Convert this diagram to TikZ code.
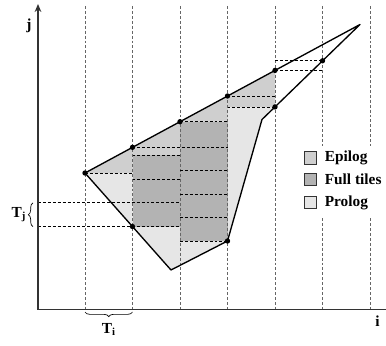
\documentclass[tikz,border=0pt]{standalone}
\usepackage{fontspec}
\setmainfont{Liberation Serif}
\usetikzlibrary{arrows.meta,positioning,decorations.pathreplacing}
\definecolor{Ink}{HTML}{333333}
\definecolor{Epi}{HTML}{CFCFCF}
\definecolor{Full}{HTML}{B3B3B3}
\definecolor{Pro}{HTML}{E6E6E6}
\tikzset{
  >=Stealth,
  axis/.style={line width=1.4pt,draw=Ink},
  vline/.style={dashed,dash pattern=on 2.2pt off 1.5pt,line width=.5pt,draw=black!60},
  hline/.style={dashed,dash pattern=on 2.2pt off 1.5pt,line width=.5pt,draw=black},
  bound/.style={line width=1pt,draw=black,line join=round},
  dot/.style={circle,fill=black,inner sep=0pt,minimum size=4pt},
  legbox/.style={draw=Ink,line width=.6pt,minimum size=9.5pt,inner sep=0pt},
  lab/.style={font=\fontsize{11.5}{13}\selectfont\bfseries,inner sep=1pt},
  brc/.style={decorate,decoration={brace,amplitude=3.5pt},line width=.5pt}
}
\begin{document}
\begin{tikzpicture}[x=0.75pt,y=-0.75pt]
  \useasboundingbox (0,0) rectangle (386,346);
  % corners of the domain
  \coordinate (a) at (85,173);
  \coordinate (t1) at (132.5,147.3);
  \coordinate (t2) at (180,121.7);
  \coordinate (t3) at (227.5,96);
  \coordinate (t4) at (275,70.4);
  \coordinate (top) at (360,24.5);
  \coordinate (r1) at (322.5,60.8);
  \coordinate (r2) at (275,106.9);
  \coordinate (k) at (262,119.5);
  \coordinate (d) at (227.5,241);
  \coordinate (bot) at (171,270);
  \coordinate (l1) at (132.5,226.6);
  % shading
  \fill[Pro] (a) -- (t4) -- (r2) -- (k) -- (d) -- (bot) -- cycle;
  \fill[Epi] (a) -- (t1) -- (132.5,173) -- cycle;
  \fill[Epi] (t1) -- (t2) -- (180,155) -- (132.5,155) -- cycle;
  \fill[Epi] (t2) -- (t3) -- (227.5,121.7) -- cycle;
  \fill[Epi] (t3) -- (t4) -- (r2) -- (227.5,106.9) -- cycle;
  \fill[Full] (132.5,155) rectangle (180,226.6);
  \fill[Full] (180,121.7) rectangle (227.5,241);
  % grid
  \foreach \x in {85,132.5,180,227.5,275,322.5,370}
    \draw[vline] (\x,6) -- (\x,309);
  \draw[hline] (a) -- (132.5,173);
  \draw[hline] (t1) -- (227.5,147.3);
  \draw[hline] (132.5,155) -- (180,155);
  \draw[hline] (132.5,179) -- (180,179);
  \draw[hline] (38,202.8) -- (180,202.8);
  \draw[hline] (38,226.6) -- (180,226.6);
  \draw[hline] (t2) -- (227.5,121.7);
  \foreach \y in {170.5,194,217.5}
    \draw[hline] (180,\y) -- (227.5,\y);
  \draw[hline] (180,241) -- (d);
  \draw[hline] (t3) -- (275,96);
  \draw[hline] (227.5,106.9) -- (r2);
  \draw[hline] (t4) -- (322.5,70.4);
  \draw[hline] (275,60.8) -- (r1);
  % domain
  \draw[bound] (a) -- (top) -- (k) -- (d) -- (bot) -- cycle;
  \foreach \p in {a,t1,t2,t3,t4,r1,r2,d,l1}
    \node[dot] (dot-\p) at (\p) {};
  % axes
  \coordinate (o) at (38,309.5);
  \coordinate (jend) at (38,4);
  \coordinate (iend) at (386,309.5);
  \draw[axis,-{Stealth[length=6pt,width=5pt]}] (o) -- (jend);
  \draw[axis] (o) -- (iend);
  \node[lab] (jlab) at (29,26) {j};
  \node[lab] (ilab) at (377.5,321) {i};
  % tile sizes
  \coordinate (tjlo) at (33,226.6);
  \coordinate (tjhi) at (33,202.8);
  \draw[brc] (tjlo) -- (tjhi) node[lab,midway,left=4pt] (tj) {T\textsubscript{j}};
  \coordinate (tir) at (132.5,312);
  \coordinate (til) at (85,312);
  \draw[brc] (tir) -- (til) node[lab,midway,below=7pt] (ti) {T\textsubscript{i}};
  % legend
  \node[fill=white,minimum width=62pt,minimum height=54pt,inner sep=0pt] (legbg) at (344,182) {};
  \node[legbox,fill=Epi] (kepi) at (310.5,158) {};
  \node[legbox,fill=Full] (kfull) at (310.5,179.5) {};
  \node[legbox,fill=Pro] (kpro) at (310.5,202.5) {};
  \node[lab,right=4.5pt of kepi] (tepi) {Epilog};
  \node[lab,right=4.5pt of kfull] (tfull) {Full tiles};
  \node[lab,right=4.5pt of kpro] (tpro) {Prolog};
\end{tikzpicture}
\end{document}
